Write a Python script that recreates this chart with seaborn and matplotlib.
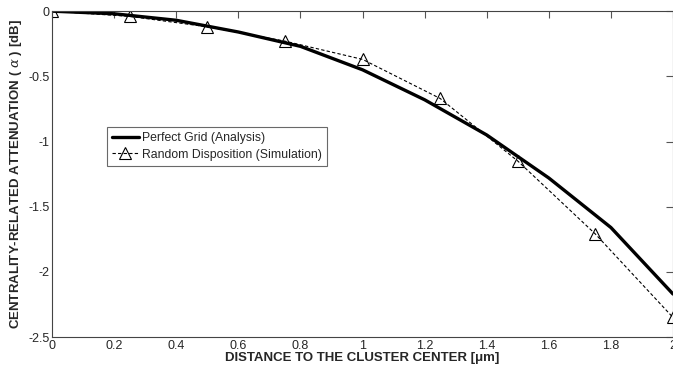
import matplotlib
matplotlib.use('Agg')
import matplotlib.pyplot as plt
import seaborn as sns
import pandas as pd

# Perfect grid (analysis) curve
grid_x = [0, 0.2, 0.4, 0.6, 0.8, 1.0, 1.2, 1.4, 1.6, 1.8, 2.0]
grid_y = [0, -0.02, -0.07, -0.16, -0.27, -0.45, -0.68, -0.95, -1.28, -1.66, -2.17]

# Random disposition (simulation) points
sim_x = [0, 0.25, 0.5, 0.75, 1.0, 1.25, 1.5, 1.75, 2.0]
sim_y = [0, -0.04, -0.12, -0.23, -0.37, -0.67, -1.15, -1.71, -2.35]

x_ticks = [0, 0.2, 0.4, 0.6, 0.8, 1, 1.2, 1.4, 1.6, 1.8, 2]
x_tick_labels = ['0', '0.2', '0.4', '0.6', '0.8', '1', '1.2', '1.4', '1.6', '1.8', '2']
y_ticks = [0, -0.5, -1, -1.5, -2, -2.5]
y_tick_labels = ['0', '-0.5', '-1', '-1.5', '-2', '-2.5']

sns.set_style('white')
plt.rcParams['font.family'] = ['Liberation Sans', 'DejaVu Sans']
plt.rcParams['mathtext.fontset'] = 'custom'
plt.rcParams['mathtext.it'] = 'DejaVu Serif:italic'

df_grid = pd.DataFrame({'x': grid_x, 'y': grid_y})
df_sim = pd.DataFrame({'x': sim_x, 'y': sim_y})

fig = plt.figure(figsize=(6.73, 3.72), dpi=100)
ax = fig.add_axes([0.0775, 0.094, 0.9225, 0.876])

sns.lineplot(data=df_grid, x='x', y='y', ax=ax, color='black', linewidth=2.4,
             label='Perfect Grid (Analysis)')
sns.lineplot(data=df_sim, x='x', y='y', ax=ax, color='black', linewidth=0.8,
             linestyle=(0, (3, 2)), marker='^', markersize=8,
             markerfacecolor='none', markeredgecolor='black', markeredgewidth=0.8,
             label='Random Disposition (Simulation)')

ax.set_xlim(0, 2)
ax.set_ylim(-2.5, 0)
ax.set_xticks(x_ticks)
ax.set_xticklabels(x_tick_labels)
ax.set_yticks(y_ticks)
ax.set_yticklabels(y_tick_labels)
ax.tick_params(direction='in', length=5, width=0.8, color='#555555',
               labelsize=9, top=True, right=True, pad=2)
for s in ax.spines.values():
    s.set_color('#444444')
    s.set_linewidth(0.8)

ax.set_xlabel('DISTANCE TO THE CLUSTER CENTER [μm]', fontsize=9.5,
              fontweight='bold', labelpad=0)
ax.set_ylabel('CENTRALITY-RELATED ATTENUATION ( $\\alpha$ ) [dB]', fontsize=9.5,
              fontweight='bold', labelpad=3)

leg = ax.legend(loc='upper left', bbox_to_anchor=(0.088, 0.643), fontsize=8.8,
                frameon=True, fancybox=False, handlelength=2.2,
                borderpad=0.4, labelspacing=0.35, handletextpad=0.3,
                borderaxespad=0)
leg.get_frame().set_edgecolor('#444444')
leg.get_frame().set_linewidth(0.8)

fig.savefig('out.png', dpi=100)
